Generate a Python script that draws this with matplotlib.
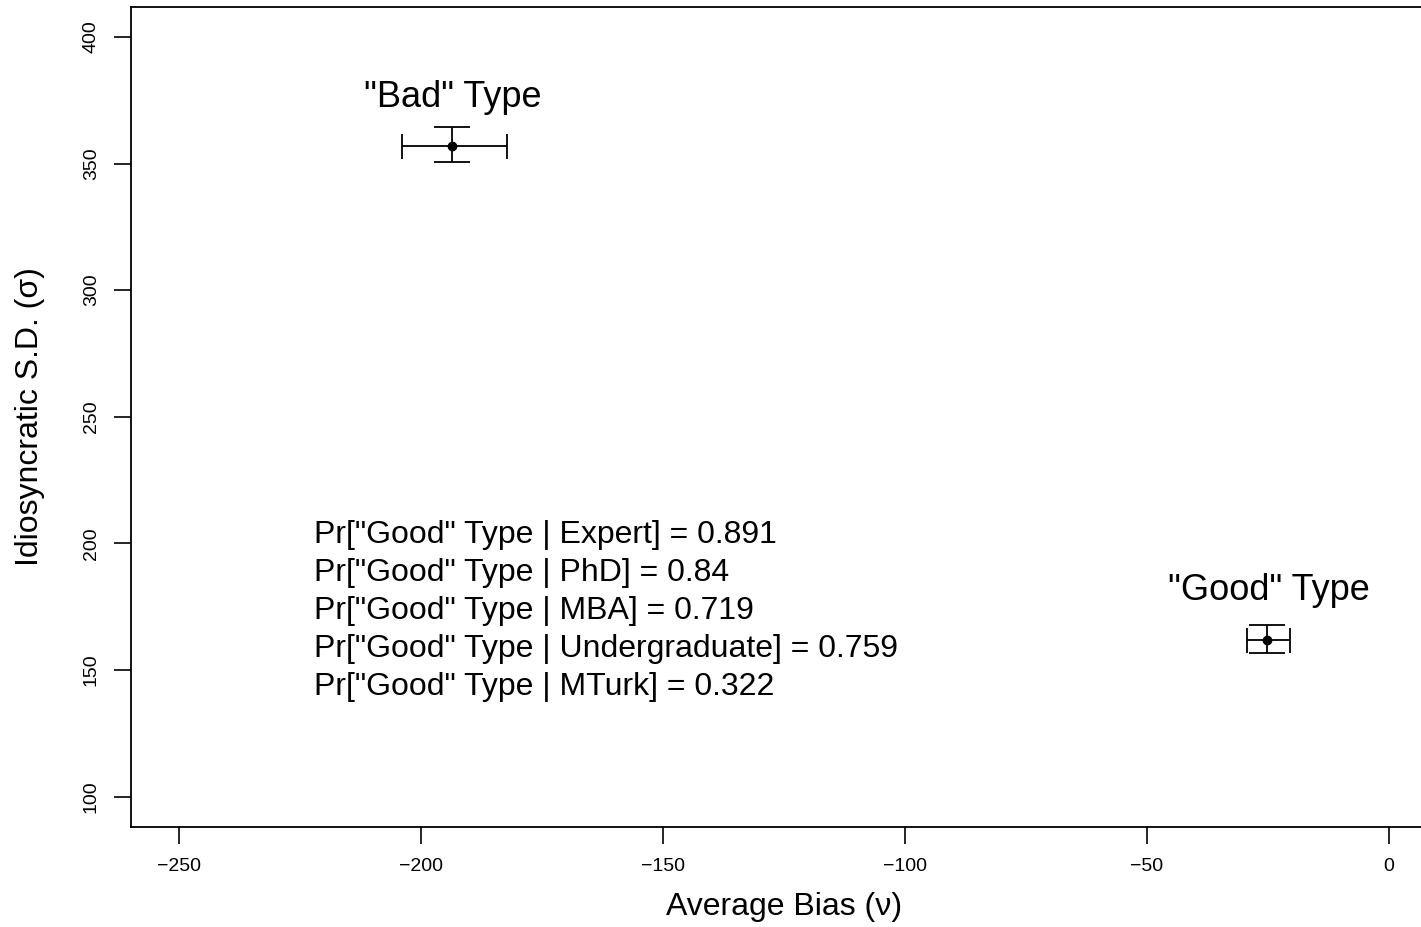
import matplotlib
matplotlib.use("Agg")
import matplotlib.pyplot as plt

plt.rcParams['font.family'] = ['Liberation Sans', 'DejaVu Sans']

types = ['"Bad" Type', '"Good" Type']
bias = [-193.5, -25.3]
bias_lo = [-204.0, -29.3]
bias_hi = [-182.3, -20.5]
sd = [356.8, 161.9]
sd_lo = [350.6, 156.9]
sd_hi = [364.4, 167.7]
label_pos = [(-193.4, 376.0), (-24.8, 181.5)]

groups = ['Expert', 'PhD', 'MBA', 'Undergraduate', 'MTurk']
probs = ['0.891', '0.84', '0.719', '0.759', '0.322']

xticks = [-250, -200, -150, -100, -50, 0]
yticks = [100, 150, 200, 250, 300, 350, 400]

W, H = 1421, 927
fig = plt.figure(figsize=(W / 100, H / 100), dpi=100)
ax = fig.add_axes([130.5 / W, 1 - 827 / H, 1307 / W, (827 - 6.5) / H])

for i in range(len(types)):
    ax.errorbar([bias[i]], [sd[i]], yerr=[[sd[i] - sd_lo[i]], [sd_hi[i] - sd[i]]],
                fmt='none', ecolor='black', elinewidth=1.3, capsize=13, capthick=1.3)
    ax.errorbar([bias[i]], [sd[i]], xerr=[[bias[i] - bias_lo[i]], [bias_hi[i] - bias[i]]],
                fmt='none', ecolor='black', elinewidth=1.3, capsize=9, capthick=1.3)
    ax.plot([bias[i]], [sd[i]], 'o', color='black', ms=6)
    ax.text(label_pos[i][0], label_pos[i][1], types[i], ha='center', va='center', fontsize=26)

y0 = 203.5
dy = 15.1
for j, (g, p) in enumerate(zip(groups, probs)):
    ax.text(-222.1, y0 - j * dy, 'Pr["Good" Type | %s] = %s' % (g, p),
            ha='left', va='center', fontsize=23)

ax.set_xlim(-260, 10)
ax.set_ylim(88, 412)
ax.set_xticks(xticks)
ax.set_xticklabels(['\u2212250', '\u2212200', '\u2212150', '\u2212100', '\u221250', '0'])
ax.set_yticks(yticks)
ax.set_yticklabels([str(v) for v in yticks], rotation=90, va='center')
ax.tick_params(axis='both', length=12, width=1.2, labelsize=14, pad=10)
for s in ax.spines.values():
    s.set_linewidth(1.3)

ax.set_xlabel('Average Bias (\u03bd)', fontsize=23, va='center')
ax.set_ylabel('Idiosyncratic S.D. (\u03c3)', fontsize=23, va='center')
ax.xaxis.set_label_coords(0.5, (827 - 907) / 820.5)
ax.yaxis.set_label_coords((30 - 130.5) / 1307, 0.5)

fig.savefig('out.png', dpi=100)
